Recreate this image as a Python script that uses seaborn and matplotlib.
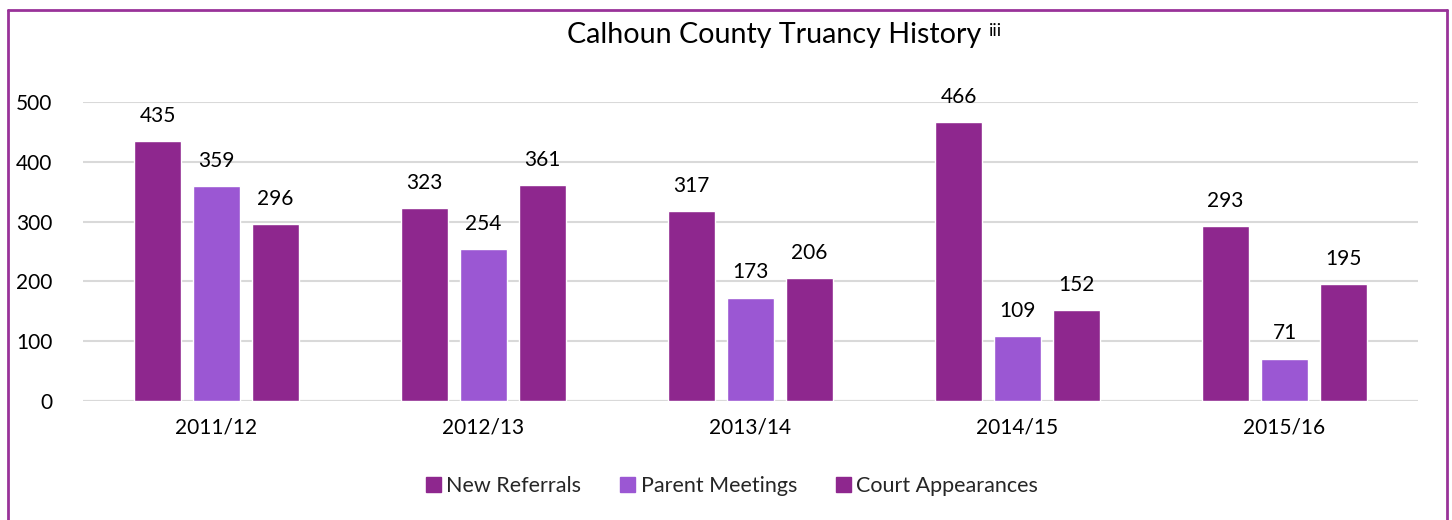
import matplotlib
matplotlib.use("Agg")
import matplotlib.pyplot as plt
from matplotlib.lines import Line2D
import seaborn as sns
import pandas as pd

years = ["2011/12", "2012/13", "2013/14", "2014/15", "2015/16"]
series = ["New Referrals", "Parent Meetings", "Court Appearances"]
new_referrals = [435, 323, 317, 466, 293]
parent_meetings = [359, 254, 173, 109, 71]
court_appearances = [296, 361, 206, 152, 195]
colors = ["#8E278E", "#9B57D3", "#8E278E"]
title = "Calhoun County Truancy History"
yticks = [0, 100, 200, 300, 400, 500]

rows = []
for name, vals in zip(series, [new_referrals, parent_meetings, court_appearances]):
    for y, v in zip(years, vals):
        rows.append({"Year": y, "Series": name, "Value": v})
df = pd.DataFrame(rows)

sns.set_theme(style="white")
plt.rcParams["font.family"] = ["Lato", "DejaVu Sans"]

fig = plt.figure(figsize=(14.52, 5.2), dpi=100)
ax = fig.add_axes([83/1452, 1-401/520, (1418-83)/1452, (401-102)/520])

sns.barplot(data=df, x="Year", y="Value", hue="Series", palette=colors,
            width=0.663, gap=0.2, ax=ax, legend=False, saturation=1, errorbar=None)

for c in ax.containers:
    ax.bar_label(c, padding=11, fontsize=15, color="#000000")

ax.set_ylim(0, 500)
ax.set_yticks(yticks)
ax.set_xlim(-0.5, 4.5)
ax.yaxis.grid(True, color="#D9D9D9", linewidth=1.5)
ax.set_axisbelow(True)
for s in ax.spines.values():
    s.set_visible(False)
ax.axhline(0, color="#D9D9D9", linewidth=1.5, zorder=0.5)
ax.set_xlabel("")
ax.set_ylabel("")
ax.tick_params(axis="y", labelsize=15, pad=22, length=0, labelcolor="#000000")
ax.tick_params(axis="x", labelsize=15, pad=12, length=0, labelcolor="#000000")

fig.text(567/1452, 1-35/520, title, fontsize=20.6, ha="left", va="center", color="#000000")
fig.text(989/1452, 1-31/520, "iii", fontsize=13, ha="left", va="center", color="#000000")

handles = [plt.Rectangle((0, 0), 1, 1, color=c) for c in colors]
fig.legend(handles, series, loc="center", bbox_to_anchor=(732/1452, 1-486/520), ncol=3,
           frameon=False, fontsize=15.5, handlelength=0.7, handleheight=0.7,
           handletextpad=0.25, columnspacing=1.8)

bc = "#993399"
lw = 2
fig.add_artist(Line2D([8/1452, 1447/1452], [1-10/520, 1-10/520], color=bc, lw=lw, transform=fig.transFigure))
fig.add_artist(Line2D([8/1452, 8/1452], [0, 1-10/520], color=bc, lw=lw, transform=fig.transFigure))
fig.add_artist(Line2D([1447/1452, 1447/1452], [0, 1-10/520], color=bc, lw=lw, transform=fig.transFigure))

fig.savefig("out.png", dpi=100)
